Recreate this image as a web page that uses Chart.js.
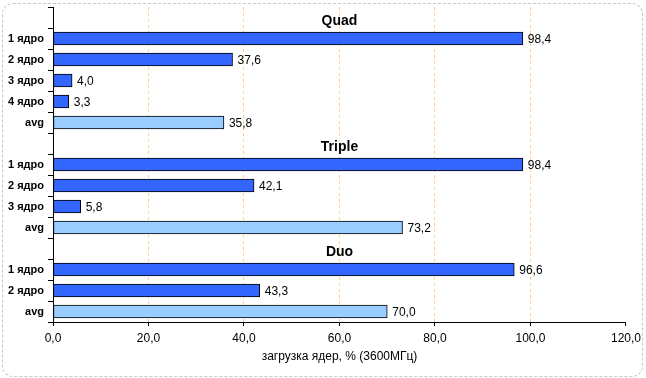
<!DOCTYPE html>
<html>
<head>
<meta charset="utf-8">
<script src="https://cdn.jsdelivr.net/npm/chart.js@4"></script>
<style>
  body { margin: 0; background: #fff; }
  #wrap { position: relative; width: 646px; height: 378px; }
  #frame {
    position: absolute; left: 2px; top: 3px; width: 639px; height: 372px;
    border: 1px dashed #c8c8c8; border-radius: 11px; pointer-events: none;
  }
</style>
</head>
<body>
<div id="wrap">
  <canvas id="myChart" width="646" height="378"></canvas>
  <div id="frame"></div>
</div>
<script>
// load per core, last value of each group is the average
const groupNames = ['Quad', 'Triple', 'Duo'];
const quadLoad = [98.4, 37.6, 4.0, 3.3, 35.8];
const tripleLoad = [98.4, 42.1, 5.8, 73.2];
const duoLoad = [96.6, 43.3, 70.0];
const xTicks = [0, 20, 40, 60, 80, 100, 120];
const axisTitle = 'загрузка ядер, % (3600МГц)';

const coreColor = '#3366FF';
const avgColor = '#99CCFF';

// build rows: one empty row for the group title, then cores, then avg
const labels = [];
const values = [];
const colors = [];
const titleRows = [];
[quadLoad, tripleLoad, duoLoad].forEach((group, g) => {
    titleRows.push({ index: labels.length, name: groupNames[g] });
    labels.push('');
    values.push(null);
    colors.push(coreColor);
    group.forEach((v, i) => {
        const isAvg = i === group.length - 1;
        labels.push(isAvg ? 'avg' : (i + 1) + ' ядро');
        values.push(v);
        colors.push(isAvg ? avgColor : coreColor);
    });
});

const fmt = (v) => v.toFixed(1).replace('.', ',');

// values to the right of the bars + group titles
const labelsPlugin = {
    id: 'barLabels',
    afterDatasetsDraw: (chart) => {
        const ctx = chart.ctx;
        const meta = chart.getDatasetMeta(0);
        ctx.save();
        ctx.fillStyle = '#000';
        ctx.font = '12px "Liberation Sans", Arial, sans-serif';
        ctx.textAlign = 'left';
        ctx.textBaseline = 'middle';
        meta.data.forEach((bar, i) => {
            if (values[i] === null) return;
            ctx.fillText(fmt(values[i]), bar.x + 5, bar.y + 1);
        });
        const area = chart.chartArea;
        const y = chart.scales.y;
        ctx.font = 'bold 14px "Liberation Sans", Arial, sans-serif';
        ctx.textAlign = 'center';
        titleRows.forEach((t) => {
            ctx.fillText(t.name, (area.left + area.right) / 2, y.getPixelForValue(t.index) + 4);
        });
        ctx.restore();
    }
};

const myChart = new Chart(document.getElementById('myChart').getContext('2d'), {
    type: 'bar',
    data: {
        labels: labels,
        datasets: [{
            data: values,
            backgroundColor: colors,
            borderColor: '#000',
            borderWidth: 1,
            borderSkipped: false,
            barThickness: 13
        }]
    },
    plugins: [labelsPlugin],
    options: {
        indexAxis: 'y',
        responsive: false,
        animation: false,
        layout: { padding: { left: 0, right: 20, top: 7, bottom: 14 } },
        plugins: {
            legend: { display: false },
            tooltip: { enabled: false }
        },
        scales: {
            x: {
                min: 0,
                max: 120,
                afterBuildTicks: (s) => { s.ticks = xTicks.map(v => ({ value: v })); },
                afterFit: (s) => { s.height = 42; },
                ticks: {
                    color: '#000',
                    padding: 5,
                    font: { family: '"Liberation Sans", Arial, sans-serif', size: 12 },
                    callback: (v) => fmt(v)
                },
                grid: {
                    color: (c) => (c.tick && (c.tick.value === 0 || c.tick.value === 120)) ? 'rgba(0,0,0,0)' : '#FFD08A',
                    tickColor: '#000',
                    tickLength: 4
                },
                border: { color: '#000', dash: [3, 3] },
                title: {
                    display: true,
                    text: axisTitle,
                    color: '#000',
                    padding: { top: 2, bottom: 0 },
                    font: { family: '"Liberation Sans", Arial, sans-serif', size: 12 }
                }
            },
            y: {
                afterFit: (s) => { s.width = 53; s.paddingTop = 0; s.paddingBottom = 0; },
                ticks: {
                    color: '#000',
                    padding: 4,
                    font: { family: '"Liberation Sans", Arial, sans-serif', size: 11, weight: 'bold' }
                },
                grid: {
                    drawOnChartArea: false,
                    tickColor: '#000',
                    tickLength: 5
                },
                border: { color: '#000' }
            }
        }
    }
});
</script>
</body>
</html>
